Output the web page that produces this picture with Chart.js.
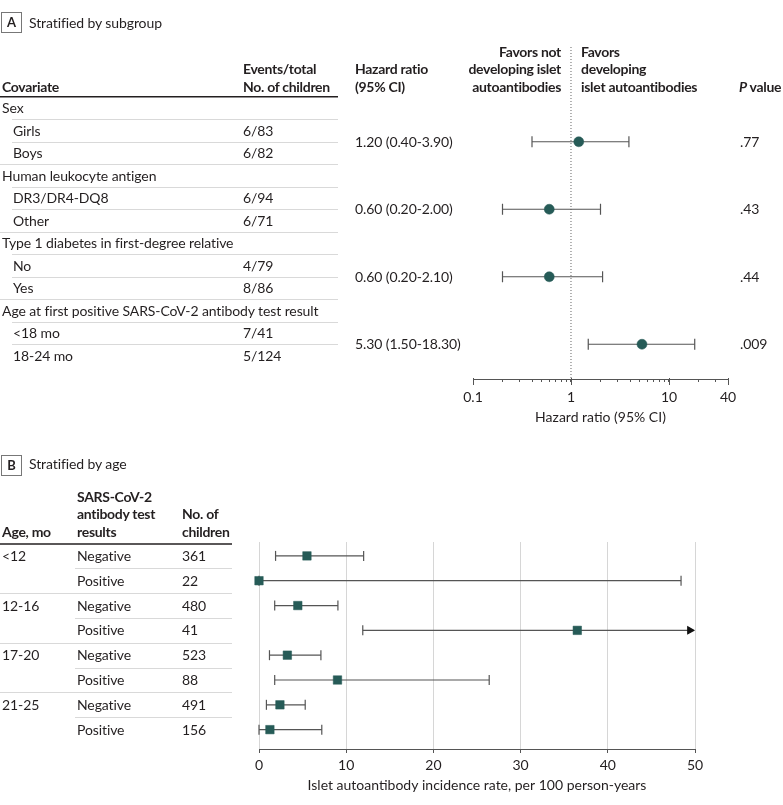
<!DOCTYPE html>
<html><head><meta charset="utf-8">
<script src="https://cdn.jsdelivr.net/npm/chart.js@4.4.1/dist/chart.umd.min.js"></script>
<style>
html,body{margin:0;padding:0;background:#fff;}
#wrap{position:relative;width:783px;height:805px;overflow:hidden;font-family:Lato,"Open Sans",sans-serif;font-size:14px;color:#231f20;}
canvas{position:absolute;left:0;}
#txt{position:absolute;left:0;top:0;width:783px;height:805px;z-index:2;pointer-events:none;}
.t{position:absolute;white-space:nowrap;line-height:16px;transform:translateY(-50%);letter-spacing:-0.1px;}
.b{font-weight:700;letter-spacing:-0.3px;}
.r{transform:translate(-100%,-50%);}
.box{position:absolute;border:1px solid #777;width:19px;height:19px;text-align:center;font-weight:700;line-height:19px;font-size:13px;}
</style></head>
<body>
<div id="wrap">
<canvas id="cA" width="783" height="430" style="top:0"></canvas>
<canvas id="cB" width="783" height="365" style="top:440px"></canvas>
<div id="txt"></div>
</div>
<script>
// ---------- Panel A data ----------
const covariateRows = ['Sex','Girls','Boys','Human leukocyte antigen','DR3/DR4-DQ8','Other',
  'Type 1 diabetes in first-degree relative','No','Yes',
  'Age at first positive SARS-CoV-2 antibody test result','<18 mo','18-24 mo'];
const rowIsSubgroup = [0,1,1,0,1,1,0,1,1,0,1,1];
const eventsTotal = ['','6/83','6/82','','6/94','6/71','','4/79','8/86','','7/41','5/124'];
const hazardRatio = [1.20, 0.60, 0.60, 5.30];
const hrLower = [0.40, 0.20, 0.20, 1.50];
const hrUpper = [3.90, 2.00, 2.10, 18.30];
const hrLabels = ['1.20 (0.40-3.90)','0.60 (0.20-2.00)','0.60 (0.20-2.10)','5.30 (1.50-18.30)'];
const pValues = ['.77','.43','.44','.009'];
const hrTicks = [0.1,0.2,0.3,0.4,0.5,0.6,0.7,0.8,0.9,1,2,3,4,5,6,7,8,9,10,20,30,40];
const hrTickLabels = {0.1:'0.1',1:'1',10:'10',40:'40'};

// ---------- Panel B data ----------
const ageGroups = ['<12','12-16','17-20','21-25'];
const testResults = ['Negative','Positive','Negative','Positive','Negative','Positive','Negative','Positive'];
const childrenN = [361,22,480,41,523,88,491,156];
const incidence = [5.5, 0, 4.45, 36.5, 3.25, 9.0, 2.4, 1.25];
const incLower  = [1.9, 0, 1.8, 11.9, 1.2, 1.8, 0.85, 0];
const incUpper  = [12.0, 48.4, 9.05, 49.4, 7.1, 26.4, 5.3, 7.2];
const incUpperOpen = [false,false,false,true,false,false,false,false];
const incTicks = [0,10,20,30,40,50];

const TEXT='#231f20', TEAL='#265b57', WHISK='#555555';
const FONT={family:'Lato, "Open Sans", sans-serif', size:14};

// row positions
const groupRow = hazardRatio.map((_,g)=>3*g+1.5);
const yAmin=-2.711, yAmax=12.044;

const rulesA = {
  id:'rulesA',
  afterDraw(chart){
    const ctx=chart.ctx, y=chart.scales.y, x=chart.scales.x;
    ctx.save();
    ctx.strokeStyle='#231f20'; ctx.lineWidth=1.5;
    let hy=y.getPixelForValue(-0.5);
    ctx.beginPath(); ctx.moveTo(0,hy); ctx.lineTo(338,hy); ctx.stroke();
    ctx.strokeStyle='#d9d9d9'; ctx.lineWidth=1;
    for(let i=0;i<covariateRows.length-1;i++){
      const py=Math.round(y.getPixelForValue(i+0.5))+0.5;
      const full = rowIsSubgroup[i+1]===0;
      ctx.beginPath(); ctx.moveTo(full?0:12,py); ctx.lineTo(338,py); ctx.stroke();
    }
    // longer ticks for labelled values
    ctx.strokeStyle='#555'; ctx.lineWidth=1;
    const b=chart.chartArea.bottom;
    Object.keys(hrTickLabels).forEach(v=>{
      const px=Math.round(x.getPixelForValue(+v))+0.5;
      ctx.beginPath(); ctx.moveTo(px,b-1); ctx.lineTo(px,b+6); ctx.stroke();
    });
    ctx.restore();
  }
};

const dsA=[];
dsA.push({data:hazardRatio.map((v,g)=>({x:v,y:groupRow[g]})),showLine:false,pointStyle:'circle',
  pointRadius:5,pointBackgroundColor:TEAL,pointBorderColor:TEAL,pointBorderWidth:0.5,clip:false});
hazardRatio.forEach((v,g)=>{
  dsA.push({data:[{x:hrLower[g],y:groupRow[g]},{x:hrUpper[g],y:groupRow[g]}],showLine:true,
    borderColor:WHISK,borderWidth:1.2,pointStyle:'line',pointRotation:90,pointRadius:5.5,
    pointBorderColor:WHISK,pointBorderWidth:1.2,clip:false});
});
dsA.push({data:[{x:1,y:yAmin},{x:1,y:yAmax}],showLine:true,borderColor:'#666',borderWidth:1,
  borderDash:[1,2],pointRadius:0,clip:false});

const chartA=new Chart(document.getElementById('cA'),{
  type:'scatter',
  data:{datasets:dsA},
  options:{
    responsive:false,animation:false,events:[],
    layout:{padding:{left:473,right:55,top:47,bottom:0}},
    plugins:{legend:{display:false},tooltip:{enabled:false}},
    scales:{
      x:{type:'logarithmic',min:0.1,max:40,position:'bottom',
        afterBuildTicks:s=>{s.ticks=hrTicks.map(v=>({value:v}));},
        afterFit:s=>{s.height=51;},
        border:{display:true,color:'#555',width:1},
        grid:{drawOnChartArea:false,drawTicks:true,tickLength:3,tickColor:'#555'},
        ticks:{autoSkip:false,maxRotation:0,padding:7,color:TEXT,font:FONT,
          callback:v=>hrTickLabels[v]||''},
        title:{display:true,text:'Hazard ratio (95% CI)',color:TEXT,font:FONT,padding:{top:0,bottom:4.6}}
      },
      y:{type:'linear',reverse:true,min:yAmin,max:yAmax,display:false}
    }
  },
  plugins:[rulesA]
});

// ---------- Panel B ----------
const rulesB = {
  id:'rulesB',
  afterDraw(chart){
    const ctx=chart.ctx, y=chart.scales.y;
    ctx.save();
    ctx.strokeStyle='#231f20'; ctx.lineWidth=1.5;
    let hy=y.getPixelForValue(-0.5)+0.5;
    ctx.beginPath(); ctx.moveTo(0,hy); ctx.lineTo(232,hy); ctx.stroke();
    ctx.strokeStyle='#d9d9d9'; ctx.lineWidth=1;
    for(let i=0;i<testResults.length-1;i++){
      const py=Math.round(y.getPixelForValue(i+0.5))+0.5;
      const full = (i%2)===1;
      ctx.beginPath(); ctx.moveTo(full?0:75,py); ctx.lineTo(232,py); ctx.stroke();
    }
    ctx.restore();
  }
};
const dsB=[];
dsB.push({data:incidence.map((v,i)=>({x:v,y:i})),showLine:false,pointStyle:'rect',pointRadius:6,
  pointBackgroundColor:TEAL,pointBorderColor:TEAL,pointBorderWidth:0.5,clip:false});
incidence.forEach((v,i)=>{
  dsB.push({data:[{x:incLower[i],y:i},{x:incUpper[i],y:i}],showLine:true,borderColor:WHISK,borderWidth:1.2,
    pointStyle:['line',incUpperOpen[i]?'triangle':'line'],pointRotation:90,
    pointRadius:[5,incUpperOpen[i]?4:5],pointBorderColor:[WHISK,incUpperOpen[i]?'#111':WHISK],
    pointBackgroundColor:'#111',pointBorderWidth:1.2,clip:false});
});
const chartB=new Chart(document.getElementById('cB'),{
  type:'scatter',
  data:{datasets:dsB},
  options:{
    responsive:false,animation:false,events:[],
    layout:{padding:{left:259,right:88,top:102,bottom:0}},
    plugins:{legend:{display:false},tooltip:{enabled:false}},
    scales:{
      x:{type:'linear',min:0,max:50,position:'bottom',
        afterBuildTicks:s=>{s.ticks=incTicks.map(v=>({value:v}));},
        afterFit:s=>{s.height=56;},
        border:{display:true,color:'#555',width:1},
        grid:{drawOnChartArea:true,color:'#d6d6d6',lineWidth:1,drawTicks:true,tickLength:4,tickColor:'#555'},
        ticks:{autoSkip:false,maxRotation:0,padding:4,color:TEXT,font:FONT},
        title:{display:true,text:'Islet autoantibody incidence rate, per 100 person-years',color:TEXT,font:FONT,padding:{top:0,bottom:11}}
      },
      y:{type:'linear',reverse:true,min:-0.56,max:7.78,display:false}
    }
  },
  plugins:[rulesB]
});

// ---------- Text ----------
const T=document.getElementById('txt');
function add(x,y,s,cls,html){
  const d=document.createElement('div'); d.className='t '+(cls||'');
  d.style.left=x+'px'; d.style.top=y+'px';
  if(html) d.innerHTML=s; else d.textContent=s;
  T.appendChild(d); return d;
}
function box(x,y,s){const d=document.createElement('div');d.className='box';d.style.left=x+'px';d.style.top=y+'px';d.textContent=s;T.appendChild(d);}
// panel A header
box(1,12,'A'); add(29,23,'Stratified by subgroup');
add(2,87,'Covariate','b');
add(243,69,'Events/total','b'); add(243,87,'No. of children','b');
add(355,69,'Hazard ratio','b'); add(355,87,'(95% CI)','b');
add(561,52,'Favors not','b r'); add(561,69,'developing islet','b r'); add(561,87,'autoantibodies','b r');
add(581,52,'Favors','b'); add(581,69,'developing','b'); add(581,87,'islet autoantibodies','b');
add(739,87,'<i>P</i> value','b',true);
const yA=chartA.scales.y;
covariateRows.forEach((s,i)=>{
  const py=yA.getPixelForValue(i);
  add(rowIsSubgroup[i]?13:2,py,s);
  if(eventsTotal[i]) add(243,py,eventsTotal[i]);
});
hrLabels.forEach((s,g)=>{
  const py=yA.getPixelForValue(groupRow[g]);
  add(355,py,s); add(740,py,pValues[g]);
});
// panel B header
box(1,455,'B'); add(29,464,'Stratified by age');
add(2,532,'Age, mo','b');
add(77,497,'SARS-CoV-2','b'); add(77,514,'antibody test','b'); add(77,532,'results','b');
add(182,514,'No. of','b'); add(182,532,'children','b');
const yB=chartB.scales.y;
testResults.forEach((s,i)=>{
  const py=440+yB.getPixelForValue(i);
  if(i%2===0) add(2,py,ageGroups[i/2]);
  add(77,py,s); add(182,py,String(childrenN[i]));
});
</script>
</body></html>
